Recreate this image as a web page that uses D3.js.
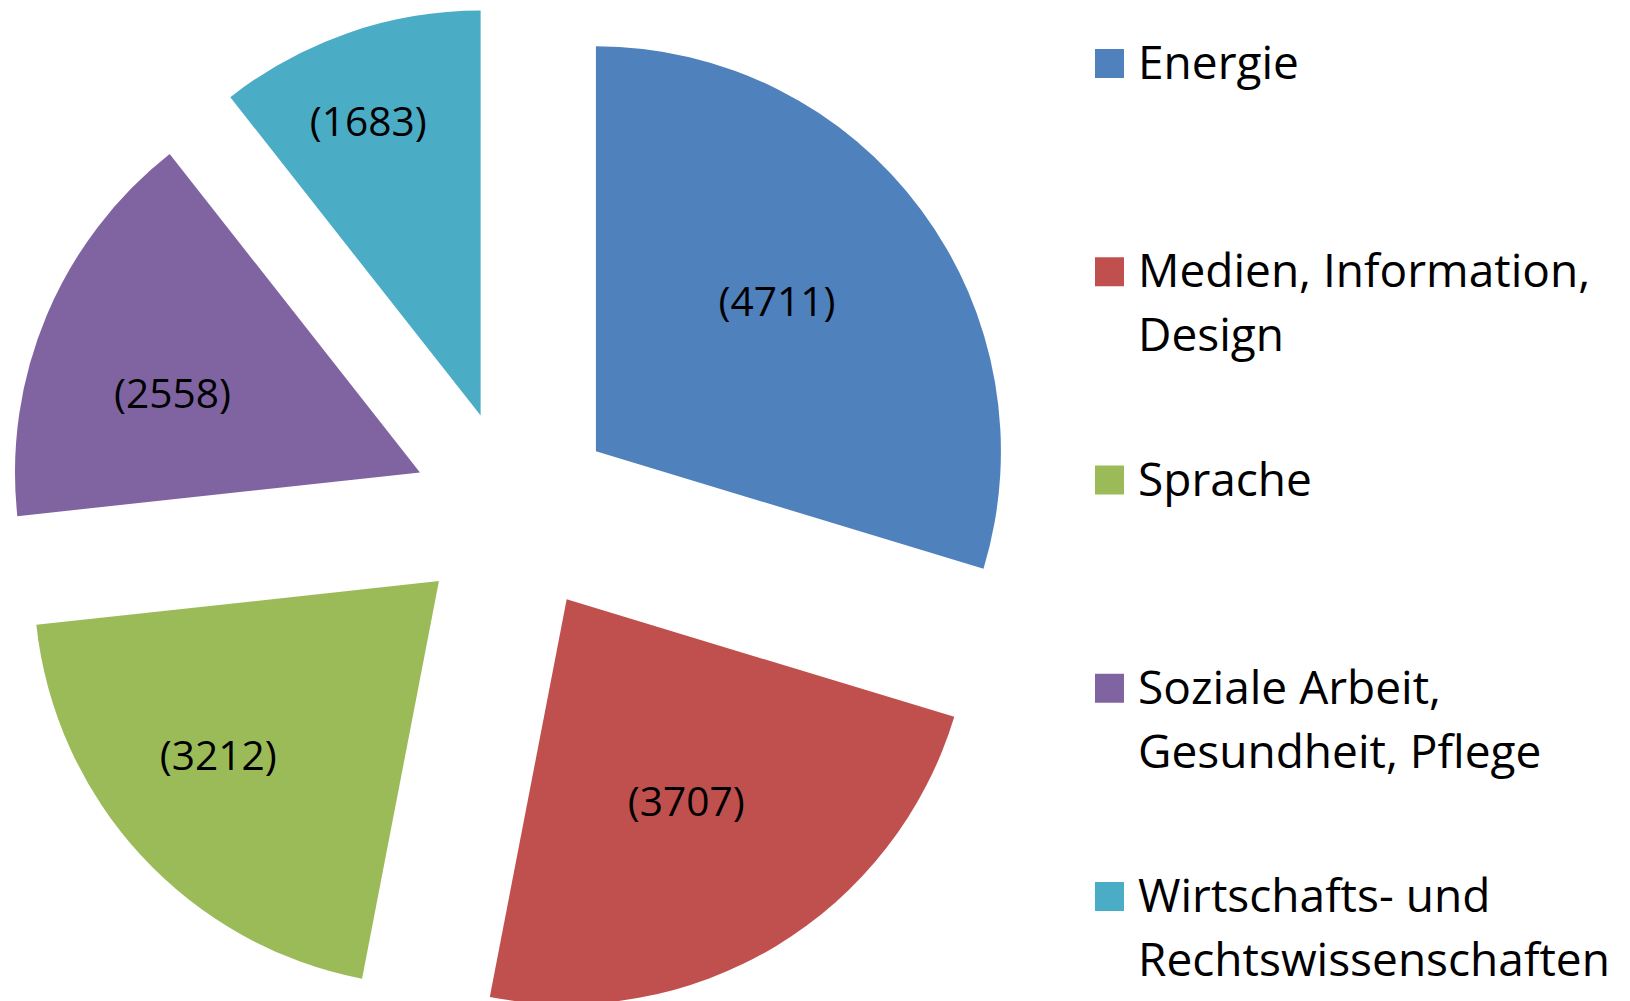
<!DOCTYPE html>
<html>
<head>
<meta charset="utf-8">
<script src="https://cdn.jsdelivr.net/npm/d3@7"></script>
<style>
  body { margin: 0; background: #fff; }
  svg { display: block; font-family: "Open Sans", Lato, sans-serif; }
</style>
</head>
<body>
<script>
// data
const categories = ["Energie", "Medien, Information, Design", "Sprache", "Soziale Arbeit, Gesundheit, Pflege", "Wirtschafts- und Rechtswissenschaften"];
const legendLines = [["Energie"], ["Medien, Information,", "Design"], ["Sprache"], ["Soziale Arbeit,", "Gesundheit, Pflege"], ["Wirtschafts- und", "Rechtswissenschaften"]];
const values = [4711, 3707, 3212, 2558, 1683];
const colors = ["#4F81BD", "#C0504D", "#9BBB59", "#8064A2", "#4BACC6"];

// layout
const width = 1630, height = 1001;
const cx = 514, cy = 512, radius = 405, explode = 102;
// label distance (fraction of radius) and small angle nudge (deg), the way Excel placed them
const labelFrac = [0.58, 0.58, 0.695, 0.642, 0.778];
const labelNudge = [-3, 0.5, 4.3, -5, -1.8];

const svg = d3.select("body").append("svg")
    .attr("width", width)
    .attr("height", height);

const pie = d3.pie().sort(null).value(d => d)
const arcs = pie(values)

const arc = d3.arc().innerRadius(0).outerRadius(radius)

const slices = svg.append("g")
    .attr("transform", "translate(" + cx + "," + cy + ")")
    .selectAll("g")
    .data(arcs)
    .enter().append("g")
    .attr("transform", function (d) {
        let mid = (d.startAngle + d.endAngle) / 2
        return "translate(" + (explode * Math.sin(mid)) + "," + (-explode * Math.cos(mid)) + ")"
    })

slices.append("path")
    .attr("d", arc)
    .attr("fill", (d, i) => colors[i])

slices.append("text")
    .attr("class", "lbl")
    .attr("transform", function (d, i) {
        let a = (d.startAngle + d.endAngle) / 2 + labelNudge[i] * Math.PI / 180
        let rr = radius * labelFrac[i]
        return "translate(" + (rr * Math.sin(a)) + "," + (-rr * Math.cos(a)) + ")"
    })
    .attr("text-anchor", "middle")
    .attr("dy", "0.36em")
    .attr("fill", "#000")
    .style("font-size", "44px")
    .text(d => "(" + d.value + ")")

// fit label size to the reference width of "(4711)" ~117px
let lblNode = svg.select(".lbl").node()
let lblSize = 44 * 117 / lblNode.getComputedTextLength()
svg.selectAll(".lbl").style("font-size", lblSize + "px")

// legend
const legX = 1095, legTop = 49, legStep = 208.25, box = 29, lineH = 64;
const legend = svg.append("g")
    .selectAll("g")
    .data(categories)
    .enter().append("g")
    .attr("transform", (d, i) => "translate(" + legX + "," + (legTop + i * legStep) + ")")

legend.append("rect")
    .attr("width", box)
    .attr("height", box)
    .attr("fill", (d, i) => colors[i])

const legText = legend.append("text")
    .attr("class", "leg")
    .attr("x", 43)
    .attr("y", 30)
    .attr("fill", "#000")
    .style("font-size", "49px")

legText.selectAll("tspan")
    .data((d, i) => legendLines[i])
    .enter().append("tspan")
    .attr("x", 43)
    .attr("dy", (d, j) => j == 0 ? 0 : lineH)
    .text(d => d)

// fit legend size so "Rechtswissenschaften" spans ~472px like the reference
let longest = legText.filter((d, i) => i == 4).selectAll("tspan").filter((d, j) => j == 1).node()
let legSize = 49 * 472 / longest.getComputedTextLength()
svg.selectAll(".leg").style("font-size", legSize + "px")
</script>
</body>
</html>
